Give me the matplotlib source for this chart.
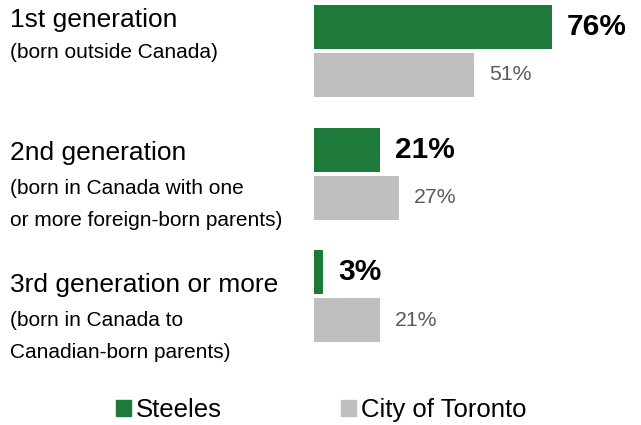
import matplotlib
matplotlib.use("Agg")
import matplotlib.pyplot as plt
import matplotlib.patches as mpatches
import numpy as np

plt.rcParams["font.family"] = ["Liberation Sans", "DejaVu Sans"]

titles = ["1st generation", "2nd generation", "3rd generation or more"]
subtitles = [
    ["(born outside Canada)"],
    ["(born in Canada with one", "or more foreign-born parents)"],
    ["(born in Canada to", "Canadian-born parents)"],
]
steeles = [76, 21, 3]
toronto = [51, 27, 21]
series_names = ["Steeles", "City of Toronto"]

GREEN = "#1e7a3a"
GREY = "#bfbfbf"

W, H = 641, 425
fig = plt.figure(figsize=(W / 100, H / 100), dpi=100)

# axes in pixel terms: bars start at x=314, 3.13 px per percent
px_per_pct = 3.13
ax_left = 314
ax_top, ax_bot = 0, 360
spacing = 122.5
ax = fig.add_axes([ax_left / W, (H - ax_bot) / H, (W - ax_left) / W, (ax_bot - ax_top) / H])
ax.set_xlim(0, (W - ax_left) / px_per_pct)
first_center = 51
ax.set_ylim((ax_bot - first_center) / spacing, (ax_top - first_center) / spacing)
ax.axis("off")

y = np.arange(len(titles))
bar_h = 44 / spacing
off = 24 / spacing
ax.barh(y - off, steeles, height=bar_h, color=GREEN, edgecolor="none")
ax.barh(y + off, toronto, height=bar_h, color=GREY, edgecolor="none")

for i in range(len(titles)):
    ax.annotate(f"{steeles[i]}%", (steeles[i], y[i] - off), xytext=(11, 0),
                textcoords="offset points", va="center", ha="left",
                fontsize=21.5, fontweight="bold", color="black")
    ax.annotate(f"{toronto[i]}%", (toronto[i], y[i] + off), xytext=(11, 0),
                textcoords="offset points", va="center", ha="left",
                fontsize=15.3, color="#595959")

# left-hand category labels
title_y = [20, 153, 285]
sub_y = [[52], [188, 221], [321, 352]]
for i, t in enumerate(titles):
    fig.text(10 / W, 1 - title_y[i] / H, t, fontsize=19, va="center", ha="left")
    for s, sy in zip(subtitles[i], sub_y[i]):
        fig.text(10 / W, 1 - sy / H, s, fontsize=15, va="center", ha="left")

handles = [mpatches.Patch(color=GREEN), mpatches.Patch(color=GREY)]
fig.legend(handles, series_names, loc="center", bbox_to_anchor=(321 / W, 1 - 410 / H),
           ncol=2, frameon=False, fontsize=18.5, handlelength=0.6, handleheight=0.6,
           handletextpad=0.17, columnspacing=4.65, borderpad=0)

fig.savefig("out.png", dpi=100)
